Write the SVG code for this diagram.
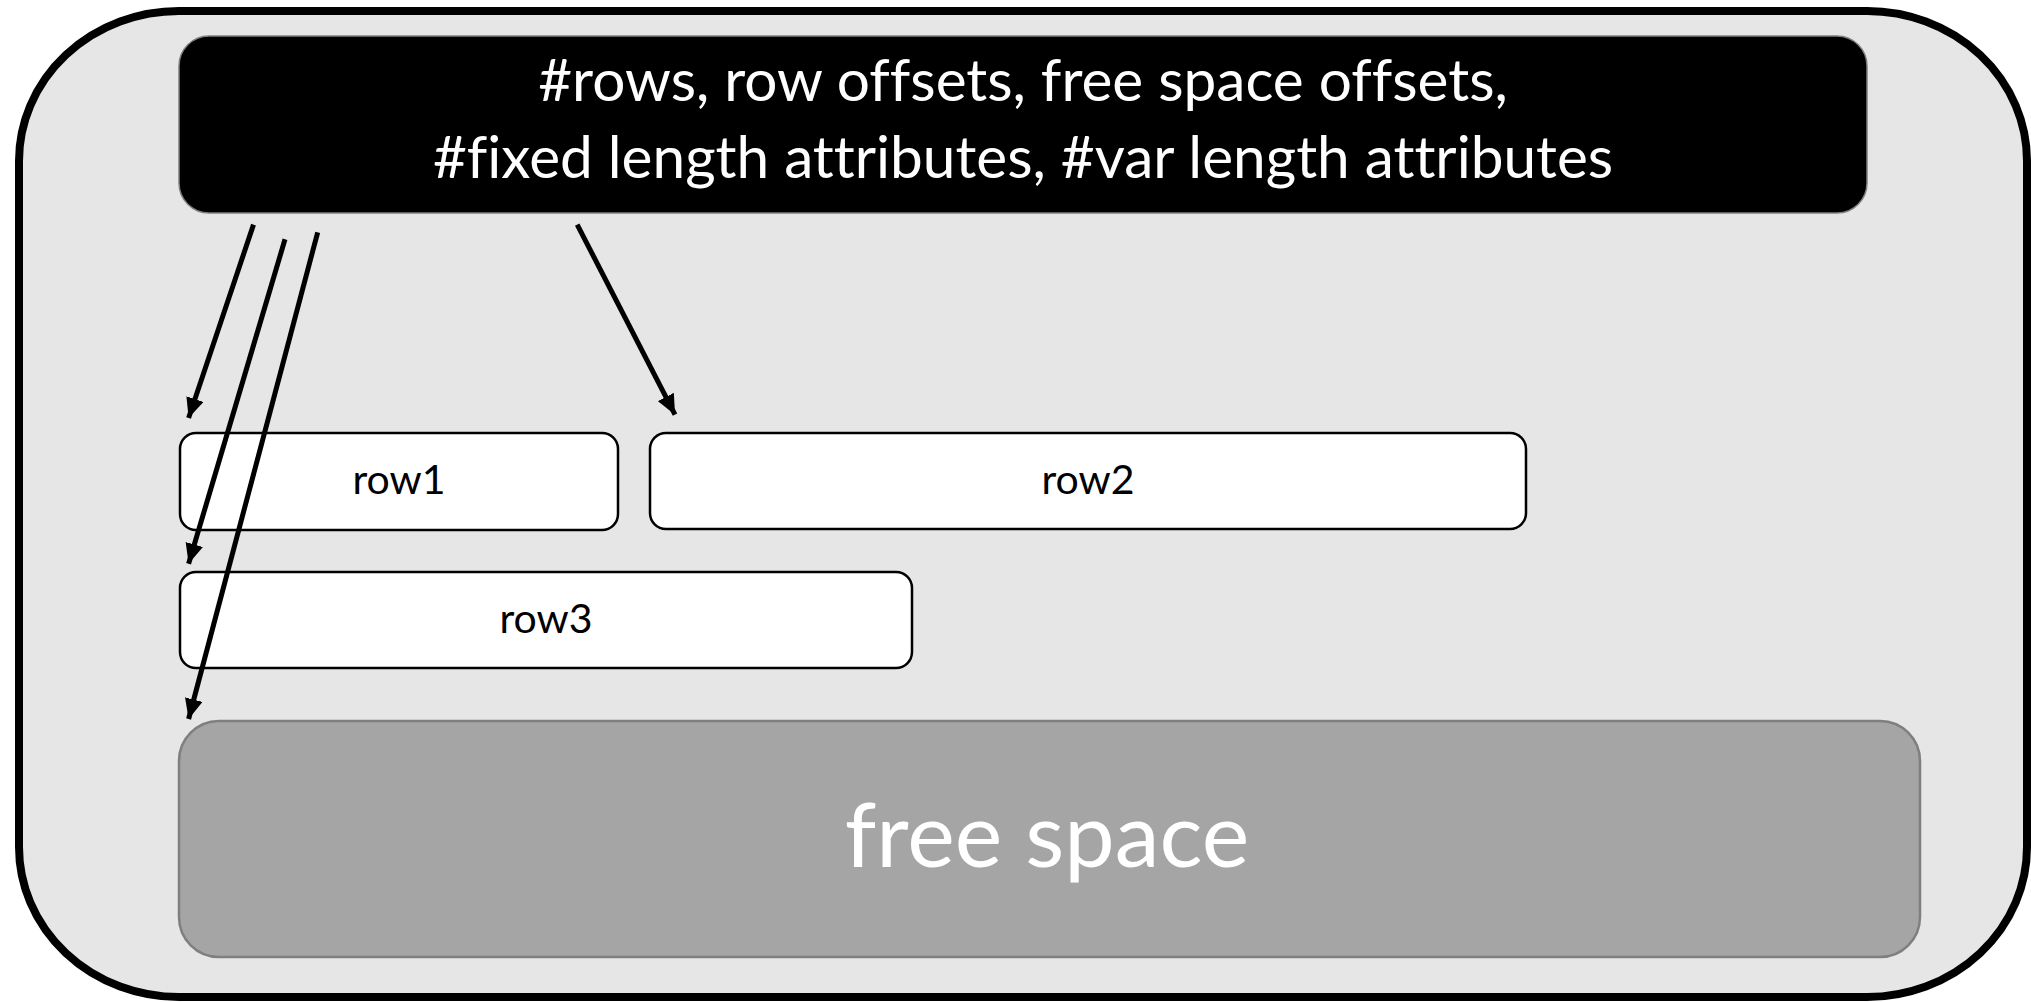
<svg xmlns="http://www.w3.org/2000/svg" width="2031" height="1002" viewBox="0 0 2031 1002">
  <style>
    text { font-variant-ligatures: none; font-feature-settings: "liga" 0, "dlig" 0; }
    .row { fill: #ffffff; stroke: #000000; stroke-width: 2.5; }
    .rowtxt { font-family: Lato, "Open Sans", sans-serif; font-size: 41px; fill: #000000; text-anchor: middle; }
    .hdrtxt { font-family: Lato, "Open Sans", sans-serif; font-size: 58.5px; fill: #ffffff; text-anchor: middle; }
    .fstxt { font-family: Lato, "Open Sans", sans-serif; font-size: 90px; fill: #ffffff; text-anchor: middle; }
    .conn { stroke: #000000; stroke-width: 5; fill: none; marker-end: url(#arrow); }
  </style>
  <defs>
    <marker id="arrow" markerUnits="userSpaceOnUse" markerWidth="22" markerHeight="18" refX="20" refY="9" orient="auto">
      <path d="M0,0 L20,9 L0,18 z" fill="#000000"/>
    </marker>
  </defs>
  <g id="page">
    <rect x="19" y="11" width="2008" height="986" rx="160" ry="150" fill="#e6e6e6" stroke="#000000" stroke-width="8"/>
  </g>
  <g id="header">
    <rect x="179" y="36" width="1688" height="177" rx="30" fill="#000000" stroke="#7f7f7f" stroke-width="1.5"/>
    <text class="hdrtxt" x="1023" y="101">#rows, row offsets, free space offsets,</text>
    <text class="hdrtxt" x="1023" y="178">#fixed length attributes, #var length attributes</text>
  </g>
  <g id="row1">
    <rect class="row" x="180" y="433" width="438" height="97" rx="16"/>
    <text class="rowtxt" x="399" y="494">row1</text>
  </g>
  <g id="row2">
    <rect class="row" x="650" y="433" width="876" height="96" rx="16"/>
    <text class="rowtxt" x="1088" y="494">row2</text>
  </g>
  <g id="row3">
    <rect class="row" x="180" y="572" width="732" height="96" rx="16"/>
    <text class="rowtxt" x="546" y="633">row3</text>
  </g>
  <g id="freespace">
    <rect x="179" y="721" width="1741" height="236" rx="40" fill="#a5a5a5" stroke="#7f7f7f" stroke-width="2.5"/>
    <text class="fstxt" x="1047" y="867">free space</text>
  </g>
  <g id="connectors">
    <line class="conn" x1="253.5" y1="224.6" x2="188.6" y2="418"/>
    <line class="conn" x1="285" y1="239.3" x2="188.6" y2="563.7"/>
    <line class="conn" x1="317.7" y1="232.3" x2="188.6" y2="719"/>
    <line class="conn" x1="577.2" y1="224.6" x2="675" y2="414.7"/>
  </g>
</svg>
